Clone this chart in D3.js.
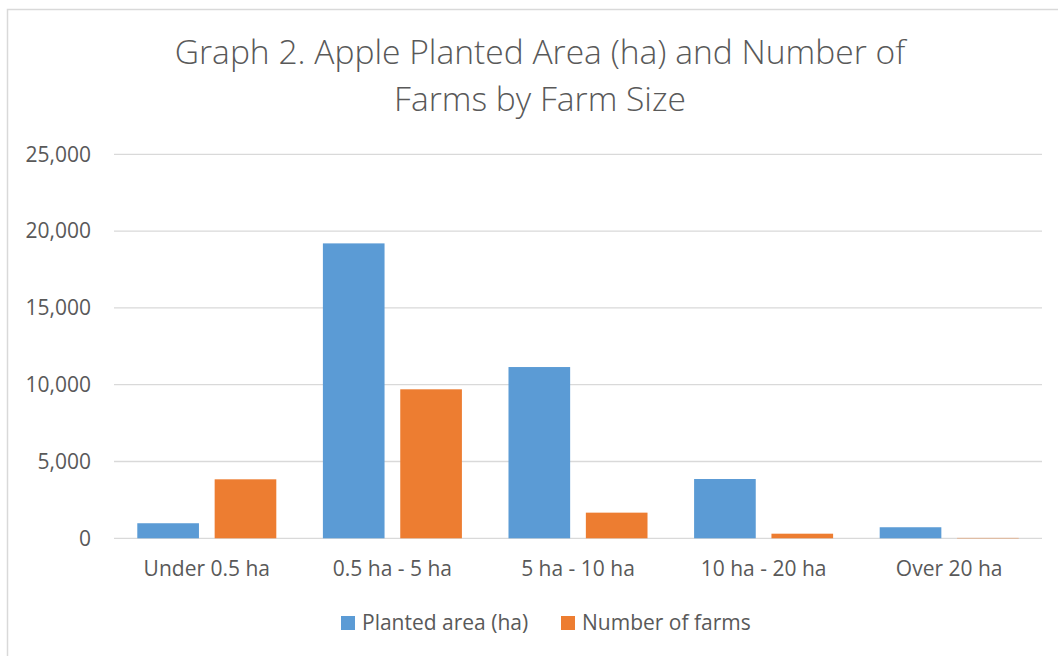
<!DOCTYPE html>
<html>
<head>
<meta charset="utf-8">
<script src="https://cdn.jsdelivr.net/npm/d3@7"></script>
<style>
  body { margin: 0; background: #fff; }
  text { font-family: "Open Sans", "Liberation Sans", sans-serif; fill: #595959; }
</style>
</head>
<body>
<svg id="chart" width="1058" height="656"></svg>
<script>
// data
var categories = ['Under 0.5 ha', '0.5 ha - 5 ha', '5 ha - 10 ha', '10 ha - 20 ha', 'Over 20 ha'];
var seriesNames = ['Planted area (ha)', 'Number of farms'];
var plantedArea = [980, 19200, 11150, 3860, 720];
var numberOfFarms = [3840, 9700, 1670, 300, 25];
var yTicks = [0, 5000, 10000, 15000, 20000, 25000];
var titleLines = ['Graph 2. Apple Planted Area (ha) and Number of', 'Farms by Farm Size'];

var colors = ['#5b9bd5', '#ed7d31'];

var svg = d3.select('#chart');

// outer chart border (runs off the right and bottom edge)
svg.append('rect')
    .attr('x', 7.5).attr('y', 9.5)
    .attr('width', 1200).attr('height', 800)
    .attr('fill', 'none')
    .attr('stroke', '#d9d9d9')
    .attr('stroke-width', 1.5);

// title
svg.selectAll('.title')
    .data(titleLines)
  .enter().append('text')
    .attr('class', 'title')
    .attr('x', 540)
    .attr('y', function(d, i) { return 64 + i * 47; })
    .attr('text-anchor', 'middle')
    .style('font-size', '33.6px')
    .style('font-weight', 300)
    .text(function(d) { return d; });

var plotLeft = 114, plotRight = 1042, plotTop = 154.3, plotBottom = 538.3;

var x0 = d3.scaleBand()
    .domain(categories)
    .range([plotLeft, plotRight])
    .paddingInner(0.251)
    .paddingOuter(0.1255);

var x1 = d3.scaleBand()
    .domain(seriesNames)
    .range([0, x0.bandwidth()])
    .paddingInner(0.203);

var y = d3.scaleLinear()
    .domain([0, 25000])
    .range([plotBottom, plotTop]);

// gridlines
svg.append('g')
  .selectAll('line')
    .data(yTicks)
  .enter().append('line')
    .attr('x1', plotLeft).attr('x2', plotRight)
    .attr('y1', function(d) { return y(d); })
    .attr('y2', function(d) { return y(d); })
    .attr('stroke', '#d9d9d9')
    .attr('stroke-width', 1.3);

// y axis labels
var yAxis = d3.axisLeft(y)
    .tickValues(yTicks)
    .tickSize(0)
    .tickPadding(0)
    .tickFormat(d3.format(','));

svg.append('g')
    .attr('transform', 'translate(91,0)')
    .call(yAxis)
    .call(function(g) { g.select('.domain').remove(); })
    .selectAll('text')
    .style('font-size', '21px')
    .style('font-family', '"Open Sans", sans-serif')
    .attr('fill', '#595959');

// bars
var rows = categories.map(function(c, i) {
  return { cat: c, values: [plantedArea[i], numberOfFarms[i]] };
});

var groups = svg.append('g')
  .selectAll('g')
    .data(rows)
  .enter().append('g')
    .attr('transform', function(d) { return 'translate(' + x0(d.cat) + ',0)'; });

groups.selectAll('rect')
    .data(function(d) { return d.values.map(function(v, j) { return { key: seriesNames[j], value: v, j: j }; }); })
  .enter().append('rect')
    .attr('x', function(d) { return x1(d.key); })
    .attr('y', function(d) { return y(d.value); })
    .attr('width', x1.bandwidth())
    .attr('height', function(d) { return y(0) - y(d.value); })
    .attr('fill', function(d) { return colors[d.j]; });

// category labels
var xAxis = d3.axisBottom(x0).tickSize(0).tickPadding(0);
svg.append('g')
    .attr('transform', 'translate(0,561)')
    .call(xAxis)
    .call(function(g) { g.select('.domain').remove(); })
    .selectAll('text')
    .style('font-size', '21px')
    .style('font-family', '"Open Sans", sans-serif')
    .attr('fill', '#595959');

// legend
var legendX = [341, 561];
var legend = svg.append('g')
  .selectAll('g')
    .data(seriesNames)
  .enter().append('g')
    .attr('transform', function(d, i) { return 'translate(' + legendX[i] + ',616)'; });

legend.append('rect')
    .attr('width', 14).attr('height', 14)
    .attr('fill', function(d, i) { return colors[i]; });

legend.append('text')
    .attr('x', 21)
    .attr('y', 14)
    .style('font-size', '21px')
    .text(function(d) { return d; });
</script>
</body>
</html>
